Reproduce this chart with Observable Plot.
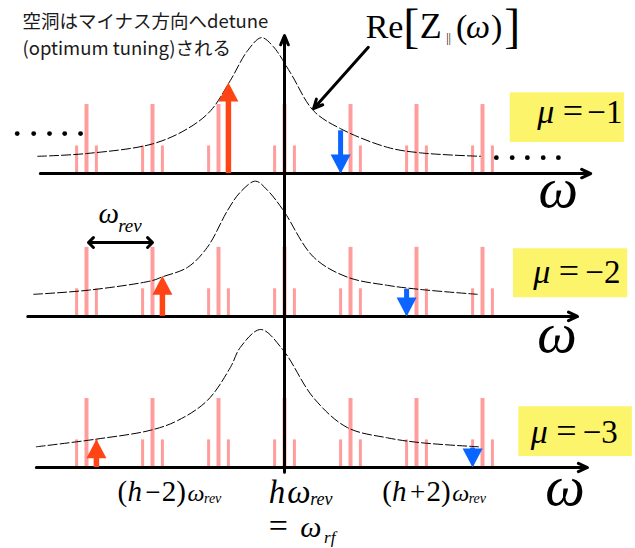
<!DOCTYPE html>
<html><head><meta charset="utf-8">
<script src="https://cdn.jsdelivr.net/npm/d3@7"></script>
<script src="https://cdn.jsdelivr.net/npm/@observablehq/plot@0.6"></script>
<style>
  html,body{margin:0;padding:0;background:#fff;}
  #chart svg{display:block;}
</style>
</head><body><div id="chart"></div>
<script>
// ---------------- data ----------------
// revolution harmonics around h (units of ω_rev, 0 = h·ω_rev = ω_rf)
const harmonics = [-3, -2, -1, 0, 1, 2, 3];
// synchrotron sideband shift (units of ω_rev)
const sidebandShift = 0.15;
// spectral line heights (relative)
const lineAmp = 1.0;
const sidebandAmp = 0.4;
// coupled-bunch modes shown in the three panels
const modeMu = [-1, -2, -3];
// growth (red, upper sideband of harmonic μ) and damping (blue) arrow heights
const growAmp = [1.32, 0.59, 0.41];
const dampAmp = [0.62, 0.39, 0.28];
// Re[Z∥(ω)] sampled from the picture : [ω (units of ω_rev), height]
const impedance1 = [[-3.74,0.25],[-3.00,0.29],[-2.00,0.43],[-1.47,0.65],[-1.12,0.91],[-0.82,1.35],[-0.56,1.78],[-0.35,1.97],[-0.17,1.84],[0.09,1.46],[0.44,0.91],[0.85,0.65],[1.56,0.38],[2.06,0.30],[2.97,0.25]];
const impedance2 = [[-3.80,0.32],[-2.97,0.38],[-2.00,0.52],[-1.86,0.57],[-1.47,0.71],[-1.17,1.00],[-0.86,1.54],[-0.67,1.80],[-0.44,1.96],[-0.26,1.83],[-0.02,1.54],[0.44,0.86],[0.95,0.57],[1.56,0.45],[2.06,0.39],[2.92,0.32]];
const impedance3 = [[-3.76,0.30],[-2.86,0.41],[-2.03,0.54],[-1.62,0.68],[-1.17,0.97],[-0.82,1.45],[-0.67,1.74],[-0.36,2.00],[-0.02,1.70],[0.44,1.01],[0.95,0.58],[1.56,0.43],[2.06,0.36],[2.94,0.30]];
// texts
const noteLines = ["空洞はマイナス方向へdetune", "(optimum tuning)される"];
const impedanceLabel = ["Re", "[", "Z", "||", "(", "ω", ")", "]"];

// ---------------- layout ----------------
const W = 635, H = 548;
const layout = {
  base: [4.26, 2.19, 0],                       // panel baselines (y units)
  axisX: [[-3.70, 4.64], [-3.89, 4.44], [-3.76, 4.59]],
  box: [[3.42, 5.15, 4.71, 5.43], [3.47, 5.20, 2.46, 3.17], [3.55, 5.27, 0.16, 0.88]],
  muText: [[3.83, 4.99, 5.12], [3.77, 2.68, 5.09], [3.73, 0.35, 5.05]],
  omega: [[3.85, 3.78], [3.83, 1.67], [3.95, -0.54]]
};
const RED = "#ff4516", BLUE = "#0a64ff", PINK = "#ff9c9c", YELLOW = "#fcf46a";
const SERIF = "Liberation Serif, Times New Roman, serif";

const panels = modeMu.map((mu, i) => ({mu, i, base: layout.base[i]}));

const bars = panels.flatMap(p => harmonics.flatMap(n => [
  {u: n, y1: p.base, y2: p.base + lineAmp, kind: "main"},
  {u: n - sidebandShift, y1: p.base, y2: p.base + sidebandAmp, kind: "side"},
  {u: n + sidebandShift, y1: p.base, y2: p.base + sidebandAmp, kind: "side"}
]));
const curves = [impedance1, impedance2, impedance3].flatMap((pts, i) =>
  pts.map(([u, v]) => ({u, y: layout.base[i] + v, panel: i})));
const grow = panels.map(p => ({u: p.mu + sidebandShift, base: p.base, top: p.base + growAmp[p.i]}));
const damp = panels.map(p => ({u: -p.mu - sidebandShift, base: p.base, top: p.base + dampAmp[p.i]}));
const axes = panels.map(p => ({x1: layout.axisX[p.i][0], x2: layout.axisX[p.i][1], y: p.base}));

const headUp = {draw(c){ c.moveTo(0,0); c.lineTo(10,19); c.lineTo(-10,19); c.closePath(); }};
const headDown = {draw(c){ c.moveTo(0,0); c.lineTo(10,-19); c.lineTo(-10,-19); c.closePath(); }};

function label(text, x, y, o = {}) {
  return Plot.text([text], {x, y, lineAnchor: "bottom", textAnchor: "start",
    fontFamily: SERIF, fontSize: 30, fill: "black", ...o});
}

const marks = [
  // yellow mode boxes
  Plot.rect(layout.box, {x1: d => d[0], x2: d => d[1], y1: d => d[2], y2: d => d[3], fill: YELLOW}),
  // beam spectrum
  Plot.ruleX(bars.filter(d => d.kind === "side"), {x: "u", y1: "y1", y2: "y2", stroke: PINK, strokeWidth: 3}),
  Plot.ruleX(bars.filter(d => d.kind === "main"), {x: "u", y1: "y1", y2: "y2", stroke: PINK, strokeWidth: 4}),
  // impedance curves
  Plot.line(curves, {x: "u", y: "y", z: "panel", curve: "catmull-rom", stroke: "black", strokeWidth: 1, strokeDasharray: "9,3"}),
  // frequency axes
  Plot.arrow(axes, {x1: "x1", x2: "x2", y1: "y", y2: "y", stroke: "black", strokeWidth: 3, headLength: 5, headAngle: 50}),
  Plot.arrow([0], {x1: 0, x2: 0, y1: -0.07, y2: 6.26, stroke: "black", strokeWidth: 3, headLength: 5, headAngle: 45}),
  // ellipsis dots
  Plot.dot([-4.05, -3.80, -3.56, -3.33, -3.09], {x: d => d, y: 4.84, r: 2.4, fill: "black"}),
  Plot.dot([3.21, 3.45, 3.68, 3.92, 4.15], {x: d => d, y: 4.49, r: 2.4, fill: "black"}),
  // growth / damping arrows (shaft stops under the head)
  Plot.ruleX(grow, {x: "u", y1: "top", y2: "base", stroke: RED, strokeWidth: 5.5, insetTop: 14}),
  Plot.dot(grow, {x: "u", y: "top", symbol: headUp, r: 10, fill: RED, stroke: "none"}),
  Plot.ruleX(damp, {x: "u", y1: "top", y2: "base", stroke: BLUE, strokeWidth: 5, insetBottom: 14}),
  Plot.dot(damp, {x: "u", y: "base", symbol: headDown, r: 10, fill: BLUE, stroke: "none"}),
  // callout arrow to the impedance curve
  Plot.arrow([0], {x1: 1.27, y1: 6.09, x2: 0.44, y2: 5.20, stroke: "black", strokeWidth: 3, headLength: 5, headAngle: 50}),
  // ω_rev spacing arrow
  Plot.arrow([-2.97, -2.00], {x1: -2.485, x2: d => d, y1: 3.26, y2: 3.26, stroke: "black", strokeWidth: 3, headLength: 3.5, headAngle: 90}),
  // Japanese note
  Plot.text([noteLines[0]], {x: -3.97, y: 6.45, textAnchor: "start", lineAnchor: "middle", fontFamily: "Noto Sans CJK JP", fontSize: 18.5, fill: "#1a1a1a"}),
  Plot.text([noteLines[1]], {x: -3.97, y: 6.07, textAnchor: "start", lineAnchor: "middle", fontFamily: "Noto Sans CJK JP", fontSize: 18.5, fill: "#1a1a1a"}),
  // Re[Z∥(ω)]
  label(impedanceLabel[0], 1.23, 6.22, {fontSize: 34}),
  label(impedanceLabel[1], 1.80, 6.17, {fontSize: 48, fontWeight: 300}),
  label(impedanceLabel[2], 2.05, 6.22, {fontSize: 36}),
  label(impedanceLabel[3], 2.45, 6.16, {fontSize: 12, letterSpacing: -1}),
  label(impedanceLabel[4], 2.60, 6.22, {fontSize: 34}),
  label(impedanceLabel[5], 2.75, 6.22, {fontSize: 34, fontStyle: "italic"}),
  label(impedanceLabel[6], 3.13, 6.22, {fontSize: 34}),
  label(impedanceLabel[7], 3.33, 6.17, {fontSize: 48, fontWeight: 300}),
  // ω_rev label
  label("ω", -2.82, 3.54, {fontSize: 29, fontStyle: "italic"}),
  label("rev", -2.52, 3.41, {fontSize: 19, fontStyle: "italic"}),
  // big ω axis labels
  ...layout.omega.map(([x, y]) => label("ω", x, y, {fontSize: 56, fontStyle: "italic"})),
  // μ labels
  ...panels.flatMap(p => {
    const [x, y, xe] = layout.muText[p.i];
    return [
      label("μ", x, y, {fontSize: 34, fontStyle: "italic"}),
      label("=", x + 0.54, y, {fontSize: 36, textAnchor: "middle"}),
      label("−" + Math.abs(p.mu), xe, y, {fontSize: 33, textAnchor: "end"})
    ];
  }),
  // harmonic tick labels: (h−2)ω_rev and (h+2)ω_rev
  ...[[-2.53, "−2"], [1.48, "+2"]].flatMap(([x0, s]) => [
    label("(", x0, -0.49, {fontSize: 29}),
    label("h", x0 + 0.15, -0.49, {fontSize: 29, fontStyle: "italic"}),
    label(s[0], x0 + 0.42, -0.49, {fontSize: 27}),
    label("2)", x0 + 0.67, -0.49, {fontSize: 29}),
    label("ω", x0 + 1.06, -0.49, {fontSize: 24, fontStyle: "italic"}),
    label("rev", x0 + 1.31, -0.52, {fontSize: 14, fontStyle: "italic"})
  ]),
  // hω_rev = ω_rf
  label("h", -0.24, -0.51, {fontSize: 33, fontStyle: "italic"}),
  label("ω", 0.04, -0.51, {fontSize: 33, fontStyle: "italic"}),
  label("rev", 0.39, -0.55, {fontSize: 18, fontStyle: "italic"}),
  label("=", -0.24, -1.00, {fontSize: 34}),
  label("ω", 0.24, -1.00, {fontSize: 30, fontStyle: "italic"}),
  label("rf", 0.60, -1.10, {fontSize: 17, fontStyle: "italic"})
];

const chart = Plot.plot({
  width: W, height: H, margin: 0,
  x: {domain: [-284 / 66, (W - 284) / 66], axis: null},
  y: {domain: [-(H - 467) / 69, 467 / 69], axis: null},
  style: {background: "white", overflow: "visible"},
  marks
});
document.getElementById("chart").appendChild(chart);
</script>
</body></html>
